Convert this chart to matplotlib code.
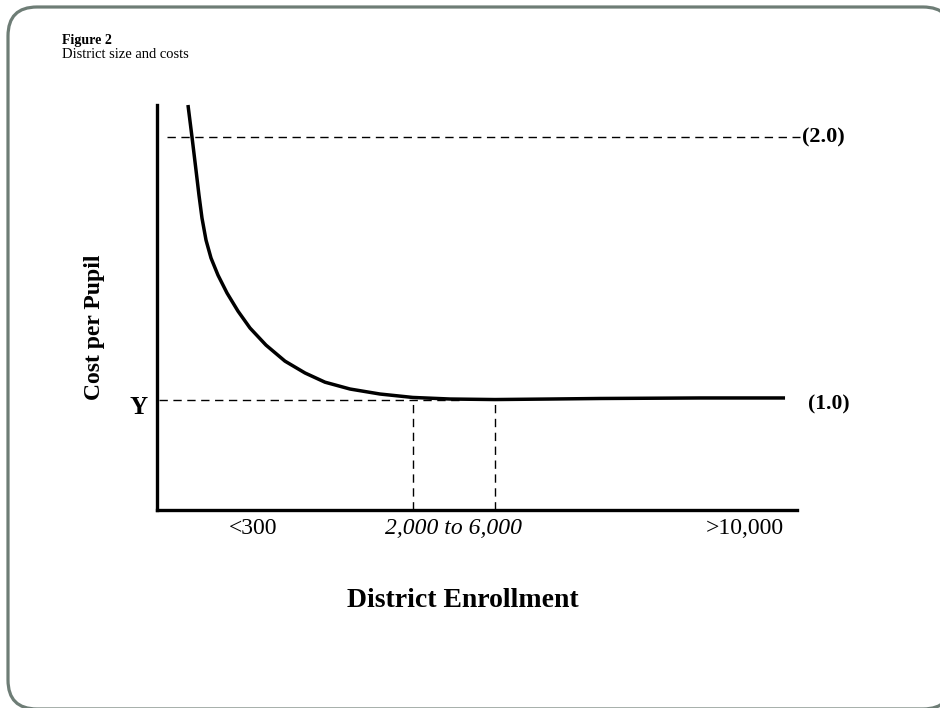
import matplotlib.pyplot as plt
from matplotlib.patches import FancyBboxPatch

### Data (x in arbitrary enrollment units 0-10, y in cost units, Y = 1.0)
curve_x = [0.484, 0.547, 0.609, 0.656, 0.703, 0.766, 0.844, 0.953, 1.094, 1.266,
           1.453, 1.703, 2.000, 2.313, 2.625, 3.016, 3.484, 3.996, 4.578, 5.281,
           6.141, 6.922, 8.484, 9.813]
curve_y = [2.122, 2.000, 1.875, 1.779, 1.692, 1.608, 1.540, 1.475, 1.407, 1.338,
           1.274, 1.209, 1.148, 1.103, 1.068, 1.042, 1.023, 1.010, 1.004, 1.002,
           1.004, 1.006, 1.008, 1.008]
band_x = [4.0, 5.28]          # 2,000 and 6,000 markers
tick_pos = [1.5, 4.64, 9.19]
tick_labels = ['<300', '2,000 to 6,000', '>10,000']
y_ref = 1.0
y_high = 2.0

serif = 'Liberation Serif'

fig = plt.figure(figsize=(9.4, 7.08), dpi=100)

### Rounded frame around the figure (pixel coords)
bg = fig.add_axes([0, 0, 1, 1])
bg.set_xlim(0, 940)
bg.set_ylim(708, 0)
bg.axis('off')
bg.add_patch(FancyBboxPatch((8, 7), 944, 702, boxstyle='round,pad=0,rounding_size=29',
                            facecolor='white', edgecolor='#6e7d76', linewidth=2.3))

fig.text(62 / 940, 1 - 44 / 708, 'Figure 2', fontfamily=serif, fontweight='bold',
         fontsize=10, va='baseline')
fig.text(62 / 940, 1 - 58 / 708, 'District size and costs', fontfamily=serif,
         fontsize=10.5, va='baseline')

### Main plot
ax = fig.add_axes([157 / 940, 198 / 708, 640 / 940, 405 / 708])
ax.set_xlim(0, 10)
ax.set_ylim(0.582, 2.122)
ax.patch.set_alpha(0)
for side in ['top', 'right']:
    ax.spines[side].set_visible(False)
for side in ['left', 'bottom']:
    ax.spines[side].set_linewidth(2.4)
    ax.spines[side].set_capstyle('projecting')

ax.plot(curve_x, curve_y, color='black', linewidth=2.5, solid_joinstyle='round',
        solid_capstyle='butt', clip_on=False)

### Dashed guide lines
dash = (0, (6, 4))
ax.plot([0.156, 10.05], [y_high, y_high], color='black', linewidth=1.0,
        linestyle=dash, clip_on=False)
ax.plot([0.03, 4.73], [y_ref, y_ref], color='black', linewidth=1.0, linestyle=dash)
for bx in band_x:
    ax.plot([bx, bx], [ax.get_ylim()[0], y_ref], color='black', linewidth=1.0,
            linestyle=dash)

ax.text(10.08, y_high, '(2.0)', fontfamily=serif, fontweight='bold', fontsize=16,
        va='center', ha='left', clip_on=False)
ax.text(10.17, 0.985, '(1.0)', fontfamily=serif, fontweight='bold', fontsize=15.5,
        va='center', ha='left', clip_on=False)

### Ticks
ax.set_xticks(tick_pos)
ax.set_xticklabels(tick_labels, fontfamily=serif, fontsize=17)
ax.get_xticklabels()[1].set_fontstyle('italic')
ax.tick_params(axis='x', length=0, pad=6)
ax.set_yticks([0.982])
ax.set_yticklabels(['Y'], fontfamily=serif, fontweight='bold', fontsize=18)
ax.tick_params(axis='y', length=0, pad=7)

ax.set_xlabel('District Enrollment', fontfamily=serif, fontweight='bold', fontsize=20)
ax.xaxis.set_label_coords((463 - 157) / 640, -(588 - 510) / 405)
ax.set_ylabel('Cost per Pupil', fontfamily=serif, fontweight='bold', fontsize=17)
ax.yaxis.set_label_coords(-(157 - 105) / 640, (510 - 327) / 405)

plt.savefig('out.png', dpi=100)
